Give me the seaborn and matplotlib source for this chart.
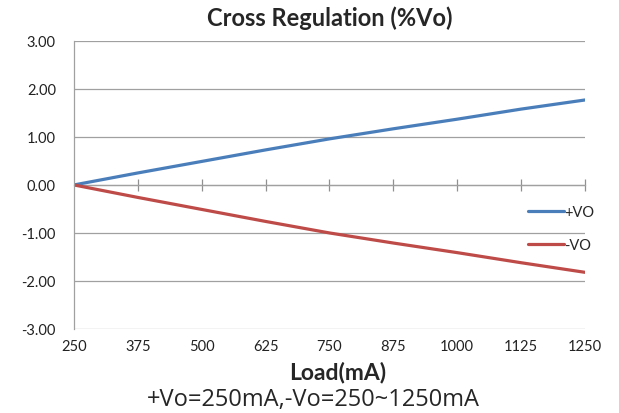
"""
Cross regulation chart (%Vo) vs load
"""
import pandas as pd
import matplotlib
matplotlib.use("Agg")
import matplotlib.pyplot as plt
import seaborn as sns

# data
load_ma = [250, 375, 500, 625, 750, 875, 1000, 1125, 1250]
pos_vo = [0.00, 0.25, 0.49, 0.73, 0.96, 1.17, 1.37, 1.58, 1.77]
neg_vo = [0.00, -0.26, -0.51, -0.76, -1.00, -1.21, -1.41, -1.62, -1.82]
series_names = ["+VO", "-VO"]
y_ticks = [-3, -2, -1, 0, 1, 2, 3]

df = pd.DataFrame({
    "load": load_ma * 2,
    "value": pos_vo + neg_vo,
    "series": [series_names[0]] * len(load_ma) + [series_names[1]] * len(load_ma),
})

sns.set_theme(style="white")
plt.rcParams["font.family"] = ["Lato", "DejaVu Sans"]

fig = plt.figure(figsize=(6.19, 4.14), dpi=100)
ax = fig.add_axes([0.1195, 0.203, 0.8255, 0.6957])

sns.lineplot(data=df, x="load", y="value", hue="series",
             palette=["#4A7EBB", "#BE4B48"], linewidth=2.3, ax=ax, legend=True)

grey = "#a0a0a0"
ax.set_xlim(load_ma[0], load_ma[-1])
ax.set_ylim(-3, 3)
ax.set_yticks(y_ticks)
ax.set_yticklabels([f"{v:.2f}" for v in y_ticks], fontsize=10.5, color="#222222")
ax.set_xticks(load_ma)
ax.set_xticklabels([str(v) for v in load_ma], fontsize=10.5, color="#222222")
ax.tick_params(axis="y", length=0, pad=13)
ax.tick_params(axis="x", length=0, pad=7)

# horizontal gridlines
ax.yaxis.grid(True, color=grey, linewidth=0.9)
ax.xaxis.grid(False)
for side in ["top", "right", "bottom"]:
    ax.spines[side].set_visible(False)
ax.spines["left"].set_color(grey)
ax.spines["left"].set_linewidth(0.9)

# category axis crossing at zero with tick marks
zero_axis = ax.secondary_xaxis(0.5)
zero_axis.set_xticks(load_ma[1:])
zero_axis.set_xticklabels([])
zero_axis.tick_params(direction="inout", length=9, width=0.9, color="#909090")
for sp in zero_axis.spines.values():
    sp.set_color(grey)
    sp.set_linewidth(0.9)

ax.set_xlabel("")
ax.set_ylabel("")
fig.text(0.533, 0.955, "Cross Regulation (%Vo)", ha="center", va="center",
         fontsize=17, fontweight="bold")

fig.text(0.546, 0.10, "Load(mA)", ha="center", va="center",
         fontsize=16.5, fontweight="bold")
fig.text(0.507, 0.034, "+Vo=250mA,-Vo=250~1250mA", ha="center", va="center",
         fontsize=17, family=["Open Sans", "DejaVu Sans"])

leg = ax.legend(loc="center left", bbox_to_anchor=(0.862, 0.35), frameon=False,
                fontsize=10.5, handlelength=2.5, handletextpad=0.0, labelspacing=1.3)

fig.savefig("out.png", dpi=100)
